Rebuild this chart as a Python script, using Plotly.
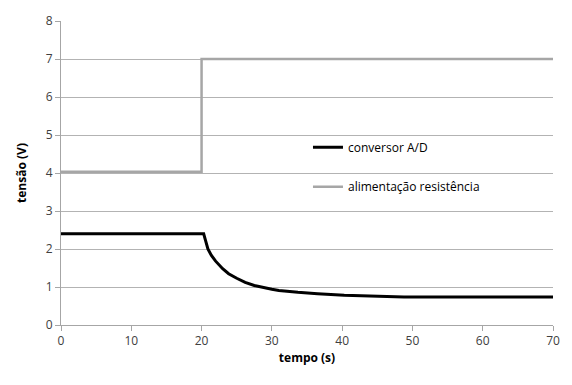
import plotly.graph_objects as go

# data
t_adc = [0, 20.3, 20.6, 20.9, 21.4, 22.0, 23.0, 23.85, 25.0, 26.2, 27.5, 29.0, 30.0, 31.0, 31.8, 33.7, 36.5, 40.3, 48.8, 70]
v_adc = [2.40, 2.40, 2.20, 2.00, 1.83, 1.68, 1.48, 1.35, 1.23, 1.12, 1.04, 0.97, 0.94, 0.91, 0.89, 0.86, 0.82, 0.78, 0.74, 0.74]
t_res = [0, 20, 20, 70]
v_res = [4.03, 4.03, 7.0, 7.0]
name_adc = "conversor A/D"
name_res = "alimentação resistência"

font_family = "Open Sans, Liberation Sans, sans-serif"
fig = go.Figure()
fig.add_trace(go.Scatter(x=t_res, y=v_res, mode="lines", name=name_res, showlegend=True,
                         line=dict(color="#a6a6a6", width=2.5), legend="legend2"))
fig.add_trace(go.Scatter(x=t_adc, y=v_adc, mode="lines", name=name_adc, showlegend=True,
                         line=dict(color="#000000", width=3), legend="legend"))

fig.update_layout(
    width=572, height=385,
    margin=dict(l=61, r=15, t=15, b=60),
    showlegend=True,
    paper_bgcolor="white", plot_bgcolor="white",
    font=dict(family=font_family, size=12, color="#404040"),
    legend=dict(x=0.502, y=0.585, xanchor="left", yanchor="middle", visible=True,
                bgcolor="rgba(0,0,0,0)", font=dict(size=12, color="#000")),
    legend2=dict(x=0.502, y=0.455, xanchor="left", yanchor="middle", visible=True,
                 bgcolor="rgba(0,0,0,0)", font=dict(size=12, color="#000")),
    xaxis=dict(range=[0, 70], dtick=10, tick0=0, showgrid=False,
               showline=True, linecolor="#a6a6a6", linewidth=1,
               ticks="outside", ticklen=5, tickcolor="#a6a6a6",
               zeroline=False,
               title=dict(text="<b>tempo (s)</b>", font=dict(size=12, color="#000"), standoff=5)),
    yaxis=dict(range=[0, 8], dtick=1, tick0=0, showgrid=True, gridcolor="#b3b3b3", gridwidth=1,
               showline=True, linecolor="#a6a6a6", linewidth=1,
               ticks="outside", ticklen=5, tickcolor="#a6a6a6",
               zeroline=False,
               title=dict(text="<b>tensão (V)</b>", font=dict(size=12, color="#000"), standoff=16)),
)
fig.write_html("out.html")
